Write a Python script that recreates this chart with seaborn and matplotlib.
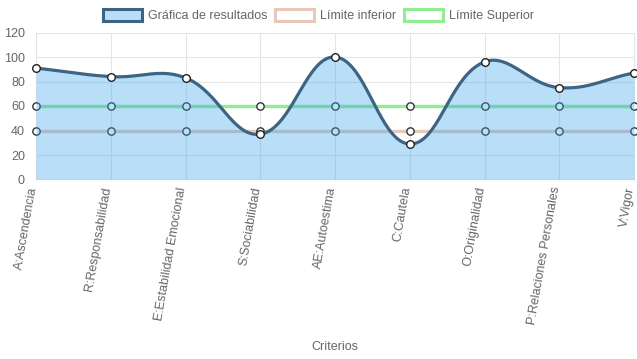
import numpy as np
import pandas as pd
import seaborn as sns
import matplotlib.pyplot as plt
from matplotlib.patches import Patch
from matplotlib.transforms import ScaledTranslation

criterios = ['A:Ascendencia', 'R:Responsabilidad', 'E:Estabilidad Emocional',
             'S:Sociabilidad', 'AE:Autoestima', 'C:Cautela', 'O:Originalidad',
             'P:Relaciones Personales', 'V:Vigor']
resultados = [91, 84, 83, 37, 100, 29, 96, 75, 87]
limite_inferior = [40] * 9
limite_superior = [60] * 9

azul_linea = '#3e6484'
azul_relleno = (54 / 255, 162 / 255, 235 / 255, 0.35)
rosa = '#e8c8ba'
verde = '#90ee90'
gris = '#666666'


def spline_chartjs(ax, xs, ys, tension=0.4, n=40):
    # same cubic bezier smoothing chart.js uses, computed in pixel space
    pts = ax.transData.transform(np.column_stack([xs, ys]))
    out = []
    m = len(pts)
    cps = []
    for i in range(m):
        prev = pts[max(i - 1, 0)]
        cur = pts[i]
        nxt = pts[min(i + 1, m - 1)]
        d01 = np.hypot(*(cur - prev))
        d12 = np.hypot(*(nxt - cur))
        tot = d01 + d12
        s01 = d01 / tot if tot else 0
        s12 = d12 / tot if tot else 0
        cps.append((cur - tension * s01 * (nxt - prev),
                    cur + tension * s12 * (nxt - prev)))
    t = np.linspace(0, 1, n)[:, None]
    for i in range(m - 1):
        p0, p3 = pts[i], pts[i + 1]
        p1, p2 = cps[i][1], cps[i + 1][0]
        seg = ((1 - t) ** 3) * p0 + 3 * ((1 - t) ** 2) * t * p1 + 3 * (1 - t) * t ** 2 * p2 + t ** 3 * p3
        out.append(seg if i == 0 else seg[1:])
    out = np.vstack(out)
    return ax.transData.inverted().transform(out)


sns.set_style('white')
plt.rcParams['font.family'] = ['Liberation Sans', 'DejaVu Sans']

fig = plt.figure(figsize=(6.37, 3.59), dpi=100)
ax = fig.add_axes([36 / 637, 1 - 179.5 / 359, 598 / 637, 147 / 359])
ax.set_xlim(0, len(criterios) - 1)
ax.set_ylim(0, 120)

x = np.arange(len(criterios))
df = pd.DataFrame({'x': x, 'res': resultados, 'inf': limite_inferior, 'sup': limite_superior})

# grid
for xv in x:
    ax.axvline(xv, color='#e5e5e5', lw=0.8, zorder=0, clip_on=False)
for yv in range(20, 121, 20):
    ax.axhline(yv, color='#e5e5e5', lw=0.8, zorder=0)

# limit lines
sns.lineplot(data=df, x='x', y='sup', color=verde, lw=2.4, ax=ax, zorder=2)
sns.lineplot(data=df, x='x', y='inf', color=rosa, lw=2.4, ax=ax, zorder=2)
for col in ['sup', 'inf']:
    sns.scatterplot(data=df, x='x', y=col, s=28, color='white', edgecolor='#333333',
                    linewidth=1.0, ax=ax, zorder=3, clip_on=False)

# results curve
curva = spline_chartjs(ax, x, resultados)
curva[:, 1] = np.clip(curva[:, 1], 0, 120)
ax.fill_between(curva[:, 0], 0, curva[:, 1], color=azul_relleno, lw=0, zorder=4)
sns.lineplot(x=curva[:, 0], y=curva[:, 1], sort=False, color=azul_linea, lw=2.3, ax=ax, zorder=5)
sns.scatterplot(data=df, x='x', y='res', s=30, color='white', edgecolor='#222222',
                linewidth=1.0, ax=ax, zorder=6, clip_on=False)

ax.axhline(0, color='#d0d0d0', lw=1.5, zorder=4)

for s in ax.spines.values():
    s.set_visible(False)

ax.set_yticks(range(0, 121, 20))
ax.set_xticks(x)
ax.set_xticklabels(criterios, rotation=80, ha='right', va='bottom', rotation_mode='anchor')
ax.tick_params(axis='both', colors='#e0e0e0', labelcolor=gris, labelsize=9, length=6, width=0.8, pad=2)
ax.tick_params(axis='x', pad=0)
desplazo = ScaledTranslation(3 / 100, 0, fig.dpi_scale_trans)
for lab in ax.get_xticklabels():
    lab.set_transform(lab.get_transform() + desplazo)
ax.set_xlabel('Criterios', color=gris, fontsize=9)
ax.xaxis.set_label_coords(0.5, (179.5 - 341) / 147)
ax.set_ylabel('')

handles = [Patch(facecolor=azul_relleno, edgecolor=azul_linea, lw=2.2, label='Gráfica de resultados'),
           Patch(facecolor='white', edgecolor=rosa, lw=2.2, label='Límite inferior'),
           Patch(facecolor='white', edgecolor=verde, lw=2.2, label='Límite Superior')]
fig.legend(handles=handles, loc='upper center', bbox_to_anchor=(0.5, 1.0), ncol=3, frameon=False,
           fontsize=9, handlelength=3.1, handleheight=1.1, columnspacing=0.6, handletextpad=0.5,
           labelcolor=gris, borderaxespad=0.3)

fig.savefig('out.png', dpi=100)
